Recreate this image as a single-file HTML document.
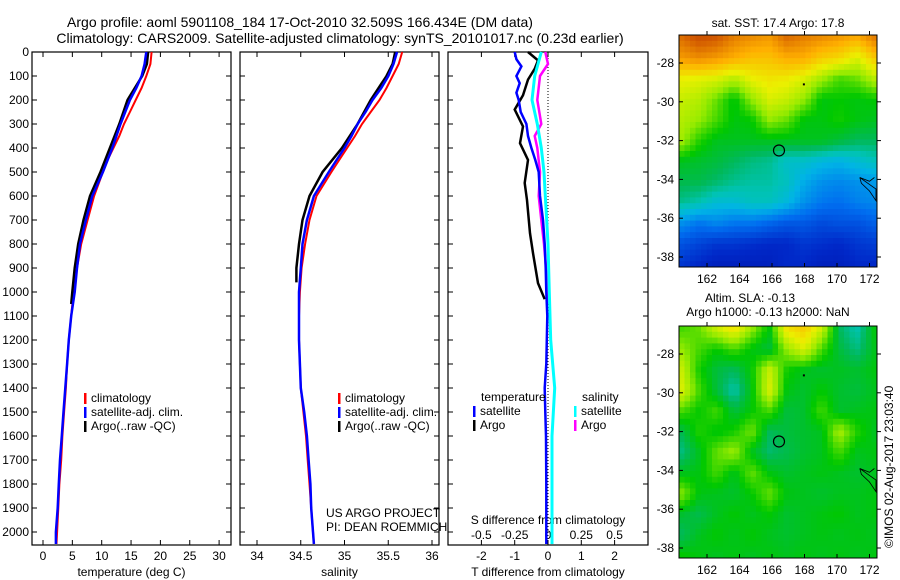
<!DOCTYPE html>
<html><head><meta charset="utf-8"><style>
html,body{margin:0;padding:0;background:#fff;}
svg{display:block;font-family:"Liberation Sans",sans-serif;}
text{fill:#000;}
</style></head><body>
<svg id="fig" width="900" height="580" viewBox="0 0 900 580" xmlns="http://www.w3.org/2000/svg">
<rect width="900" height="580" fill="#fff"/>
<text x="300" y="27" font-size="14" text-anchor="middle">Argo profile: aoml 5901108_184 17-Oct-2010 32.509S 166.434E (DM data)</text>
<text x="340" y="43" font-size="14" text-anchor="middle">Climatology: CARS2009. Satellite-adjusted climatology: synTS_20101017.nc (0.23d earlier)</text>
<g id="p1"></g>
<g id="p2"></g>
<g id="p3"></g>
<g id="m1"></g>
<g id="m2"></g>
<text x="778" y="27" font-size="12" text-anchor="middle">sat. SST: 17.4  Argo: 17.8</text>
<text x="750" y="302" font-size="12" text-anchor="middle">Altim. SLA: -0.13</text>
<text x="768" y="316" font-size="12" text-anchor="middle">Argo h1000: -0.13 h2000: NaN</text>
<text transform="translate(893,548) rotate(-90)" font-size="12">©IMOS 02-Aug-2017 23:03:40</text>
</svg>
<script>
// ---- data ----
const tempDepths = [0,50,100,150,200,250,300,350,400,450,500,600,700,800,900,1000,1100,1200,1300,1400,1500,1600,1700,1800,1900,2000,2050];
const tempClim   = [18.5,18.3,17.6,16.8,15.8,14.8,13.8,13.0,12.0,11.0,10.2,8.7,7.6,6.5,5.8,5.2,4.8,4.4,4.1,3.9,3.6,3.3,3.1,2.8,2.6,2.4,2.3];
const tempSat    = [17.6,17.3,16.8,15.9,14.8,14.0,13.2,12.5,11.8,11.0,10.2,8.4,7.3,6.3,5.8,5.4,4.8,4.4,4.1,3.8,3.5,3.2,2.9,2.7,2.5,2.2,2.2];
const argoTDepths = [0,50,100,200,300,400,500,600,700,800,900,1000,1050];
const argoTemp    = [17.9,17.7,16.9,14.4,13.0,11.4,9.8,8.0,6.9,6.0,5.4,5.0,4.8];
const salClim = [35.66,35.62,35.55,35.48,35.40,35.30,35.20,35.12,35.03,34.94,34.85,34.68,34.60,34.55,34.51,34.49,34.48,34.48,34.49,34.50,34.53,34.56,34.58,34.60,34.62,34.64,34.65];
const salSat  = [35.60,35.56,35.50,35.42,35.32,35.24,35.15,35.08,35.00,34.91,34.82,34.65,34.57,34.52,34.50,34.48,34.48,34.48,34.49,34.50,34.54,34.57,34.59,34.61,34.62,34.64,34.65];
const argoSDepths = [0,50,100,200,300,400,500,600,700,800,900,960];
const argoSal     = [35.58,35.55,35.48,35.30,35.15,34.97,34.75,34.60,34.52,34.48,34.45,34.45];
const dTDepths = [0,30,60,100,130,170,200,250,300,350,400,450,500,600,700,800,900,1000,1100,1300,1400,1500,1600,1800,2050];
const dTSat    = [-1.0,-0.95,-0.8,-0.95,-0.85,-0.95,-0.88,-0.82,-0.65,-0.6,-0.5,-0.38,-0.28,-0.24,-0.15,-0.1,-0.07,-0.05,-0.02,-0.05,-0.1,-0.08,-0.06,-0.05,-0.05];
const dTArgoDepths = [0,35,70,115,180,240,310,380,450,546,617,755,838,963,1030];
const dTArgo       = [-0.6,-0.3,-0.4,-0.6,-0.75,-1.0,-0.75,-0.84,-0.6,-0.7,-0.63,-0.54,-0.45,-0.3,-0.1];
const dSDepths = [0,100,200,300,400,500,600,700,800,1000,1200,1400,1600,1800,2050];
const dSSat    = [-0.05,-0.1,-0.12,-0.08,-0.05,-0.03,-0.02,-0.01,0,0.01,0.02,0.05,0.03,0.03,0.03];
const dSArgoDepths = [0,50,100,200,300,350,400,500,600,700,800,1000,1050];
const dSArgo       = [-0.02,0,-0.06,-0.08,-0.05,-0.1,-0.08,-0.06,-0.07,-0.05,-0.03,0,0];
const depthTicks = [0,100,200,300,400,500,600,700,800,900,1000,1100,1200,1300,1400,1500,1600,1700,1800,1900,2000];
const tempTicks = [0,5,10,15,20,25,30];
const salTicks = [34,34.5,35,35.5,36];
const dTTicks = [-2,-1,0,1,2];
const dSTicks = [-0.5,-0.25,0,0.25,0.5];
const lonTicks = [162,164,166,168,170,172];
const latTicks = [-28,-30,-32,-34,-36,-38];
const sstGrid = [
[0.85,0.9,0.88,0.82,0.8,0.78,0.85,0.82,0.8,0.78,0.75,0.82],
[0.78,0.8,0.78,0.75,0.72,0.72,0.75,0.75,0.7,0.68,0.62,0.7],
[0.64,0.63,0.62,0.58,0.64,0.66,0.65,0.62,0.56,0.5,0.52,0.58],
[0.6,0.58,0.52,0.45,0.55,0.62,0.6,0.55,0.45,0.46,0.45,0.46],
[0.58,0.55,0.5,0.45,0.46,0.55,0.52,0.45,0.45,0.47,0.45,0.44],
[0.56,0.48,0.44,0.44,0.44,0.44,0.44,0.44,0.44,0.42,0.4,0.4],
[0.44,0.43,0.42,0.4,0.38,0.37,0.33,0.33,0.31,0.3,0.32,0.34],
[0.41,0.41,0.39,0.37,0.36,0.36,0.34,0.29,0.26,0.25,0.26,0.27],
[0.37,0.35,0.32,0.32,0.34,0.34,0.31,0.26,0.23,0.22,0.24,0.25],
[0.26,0.23,0.25,0.23,0.23,0.21,0.19,0.19,0.17,0.18,0.18,0.2],
[0.18,0.16,0.14,0.14,0.13,0.12,0.12,0.14,0.13,0.12,0.14,0.15],
[0.14,0.12,0.1,0.1,0.1,0.1,0.12,0.12,0.1,0.1,0.12,0.12]];
const slaGrid = [
[0.5,0.52,0.6,0.66,0.55,0.45,0.66,0.7,0.6,0.4,0.35,0.45],
[0.55,0.5,0.46,0.5,0.45,0.42,0.55,0.62,0.5,0.42,0.38,0.44],
[0.6,0.47,0.42,0.4,0.46,0.6,0.47,0.44,0.43,0.44,0.43,0.45],
[0.62,0.5,0.42,0.35,0.45,0.62,0.45,0.43,0.46,0.43,0.42,0.44],
[0.5,0.46,0.5,0.42,0.46,0.5,0.42,0.43,0.5,0.43,0.44,0.45],
[0.41,0.48,0.45,0.47,0.53,0.4,0.42,0.43,0.44,0.57,0.48,0.44],
[0.38,0.44,0.52,0.56,0.44,0.39,0.41,0.43,0.44,0.5,0.44,0.45],
[0.44,0.45,0.5,0.44,0.52,0.45,0.43,0.44,0.45,0.44,0.43,0.44],
[0.54,0.45,0.44,0.43,0.46,0.52,0.45,0.44,0.43,0.44,0.44,0.45],
[0.43,0.41,0.44,0.46,0.44,0.46,0.43,0.44,0.45,0.46,0.44,0.45],
[0.4,0.44,0.46,0.44,0.46,0.44,0.43,0.44,0.45,0.44,0.45,0.44],
[0.46,0.45,0.44,0.45,0.44,0.45,0.44,0.45,0.44,0.45,0.44,0.45]];

const NS='http://www.w3.org/2000/svg';
function mk(parent,tag,attrs){const e=document.createElementNS(NS,tag);for(const k in attrs)e.setAttribute(k,attrs[k]);parent.appendChild(e);return e;}
const yD = d => 52 + d*0.24;

function panel(g,x0,x1,xf,ticks,fmt,xlabel,showDepth){
  const fr=mk(g,'rect',{x:x0,y:52,width:x1-x0,height:493,fill:'none',stroke:'#000','stroke-width':1.2});
  
  
  ticks.forEach(t=>{const x=xf(t);
    mk(g,'line',{x1:x,y1:545,x2:x,y2:540,stroke:'#000'});
    mk(g,'line',{x1:x,y1:52,x2:x,y2:57,stroke:'#000'});
    const tx=mk(g,'text',{x:x,y:560,'font-size':12,'text-anchor':'middle'});tx.textContent=fmt(t);
    
    
  });
  depthTicks.forEach(d=>{const y=yD(d);
    mk(g,'line',{x1:x0,y1:y,x2:x0+5,y2:y,stroke:'#000'});
    mk(g,'line',{x1:x1,y1:y,x2:x1-5,y2:y,stroke:'#000'});
    if(showDepth){const tx=mk(g,'text',{x:x0-3,y:y+4,'font-size':12,'text-anchor':'end'});tx.textContent=d;
      
      }
  });
  const xl=mk(g,'text',{x:(x0+x1)/2,y:576,'font-size':12,'text-anchor':'middle'});xl.textContent=xlabel;
  
  
}
function line(g,depths,vals,xf,color,w,name){
  const pts=depths.map((d,i)=>xf(vals[i]).toFixed(1)+','+yD(d).toFixed(1)).join(' ');
  const p=mk(g,'polyline',{points:pts,fill:'none',stroke:color,'stroke-width':w});
  
  
}
function legend(g,x,y,items){
  items.forEach((it,i)=>{
    mk(g,'rect',{x:x,y:y+i*14-9,width:2.5,height:11,fill:it[1]});
    const t=mk(g,'text',{x:x+7,y:y+i*14,'font-size':12});t.textContent=it[0];
    
    
  });
}
// panel 1
const p1=document.getElementById('p1'); const xT=t=>43+5.87*t;
panel(p1,32,231,xT,tempTicks,String,'temperature (deg C)',true);
line(p1,tempDepths,tempClim,xT,'#f00',2,'temp-climatology-line');
line(p1,argoTDepths,argoTemp,xT,'#000',2.5,'temp-argo-line');
line(p1,tempDepths,tempSat,xT,'#00f',2.5,'temp-satellite-line');
legend(p1,84,402,[['climatology','#f00'],['satellite-adj. clim.','#00f'],['Argo(..raw -QC)','#000']]);
// panel 2
const p2=document.getElementById('p2'); const xS=s=>257+87.5*(s-34);
panel(p2,240,439,xS,salTicks,String,'salinity',false);
line(p2,tempDepths,salClim,xS,'#f00',2,'sal-climatology-line');
line(p2,argoSDepths,argoSal,xS,'#000',2.5,'sal-argo-line');
line(p2,tempDepths,salSat,xS,'#00f',2.5,'sal-satellite-line');
legend(p2,338,402,[['climatology','#f00'],['satellite-adj. clim.','#00f'],['Argo(..raw -QC)','#000']]);
[['US ARGO PROJECT',517],['PI: DEAN ROEMMICH',531]].forEach(a=>{const t=mk(p2,'text',{x:326,y:a[1],'font-size':12});t.textContent=a[0];
  
  });
// panel 3
const p3=document.getElementById('p3'); const xdT=t=>548+33.3*t; const xdS=s=>548+133.2*s;
panel(p3,448,648,xdT,dTTicks,String,'T difference from climatology',false);
mk(p3,'line',{x1:548,y1:52,x2:548,y2:545,stroke:'#000','stroke-dasharray':'1,2'});
dSTicks.forEach(s=>{const t=mk(p3,'text',{x:xdS(s),y:539,'font-size':12,'text-anchor':'middle'});t.textContent=String(s);
  
  });
{const t=mk(p3,'text',{x:548,y:524,'font-size':12,'text-anchor':'middle'});t.textContent='S difference from climatology';
 
 }
line(p3,dTArgoDepths,dTArgo,xdT,'#000',2.5,'dT-argo-line');
line(p3,dSArgoDepths,dSArgo,xdS,'#f0f',2.5,'dS-argo-line');
line(p3,dSDepths,dSSat,xdS,'#0ff',3,'dS-satellite-line');
line(p3,dTDepths,dTSat,xdT,'#00f',2.5,'dT-satellite-line');
{const t=mk(p3,'text',{x:481,y:401,'font-size':12});t.textContent='temperature';
 
 
 const u=mk(p3,'text',{x:582,y:401,'font-size':12});u.textContent='salinity';
 
 }
legend(p3,473,415,[['satellite','#00f'],['Argo','#000']]);
legend(p3,574,415,[['satellite','#0ff'],['Argo','#f0f']]);

// maps
const stops=[[0,[0,0,140]],[0.12,[0,40,200]],[0.22,[0,110,240]],[0.3,[0,180,230]],[0.35,[0,195,180]],[0.4,[0,185,90]],[0.46,[0,200,0]],[0.55,[150,235,0]],[0.64,[235,240,0]],[0.75,[255,175,0]],[0.88,[210,90,0]],[1,[170,40,0]]];
function cmap(v){for(let i=1;i<stops.length;i++){if(v<=stops[i][0]){const a=stops[i-1],b=stops[i];const f=(v-a[0])/(b[0]-a[0]);return 'rgb('+a[1].map((c,k)=>Math.round(c+(b[1][k]-c)*f)).join(',')+')';}}return 'rgb(170,40,0)';}
function map(g,top,grid){
  const x0=679,x1=877,bot=top+232;
  const xl=lon=>707+16.25*(lon-162); const yl=lat=>top+28+19.4*(-28-lat);
  const N=36,M=40; const cw=(x1-x0)/N, ch=(bot-top)/M;
  for(let j=0;j<M;j++)for(let i=0;i<N;i++){
    const gx=i/(N-1)*11, gy=j/(M-1)*11; const ix=Math.min(10,Math.floor(gx)), iy=Math.min(10,Math.floor(gy));
    const fx=gx-ix, fy=gy-iy;
    const v=grid[iy][ix]*(1-fx)*(1-fy)+grid[iy][ix+1]*fx*(1-fy)+grid[iy+1][ix]*(1-fx)*fy+grid[iy+1][ix+1]*fx*fy;
    mk(g,'rect',{x:(x0+i*cw).toFixed(2),y:(top+j*ch).toFixed(2),width:(cw+0.4).toFixed(2),height:(ch+0.4).toFixed(2),fill:cmap(v)});
  }
  const fr=mk(g,'rect',{x:x0,y:top,width:x1-x0,height:bot-top,fill:'none',stroke:'#000'});
  
  
  lonTicks.forEach(l=>{const x=xl(l);mk(g,'line',{x1:x,y1:top,x2:x,y2:top-4,stroke:'#000'});mk(g,'line',{x1:x,y1:bot,x2:x,y2:bot-4,stroke:'#000'});
    const t=mk(g,'text',{x:x,y:bot+16,'font-size':12,'text-anchor':'middle'});t.textContent=l;
    
    });
  latTicks.forEach(l=>{const y=yl(l);mk(g,'line',{x1:x1,y1:y,x2:x1+4,y2:y,stroke:'#000'});mk(g,'line',{x1:x0,y1:y,x2:x0+4,y2:y,stroke:'#000'});
    const t=mk(g,'text',{x:x0-5,y:y+4,'font-size':12,'text-anchor':'end'});t.textContent=l;
    
    });
  const c=mk(g,'circle',{cx:xl(166.43),cy:yl(-32.51),r:5.5,fill:'none',stroke:'#000','stroke-width':1.2});
  
  
  mk(g,'rect',{x:xl(167.9),y:yl(-29.05),width:2,height:2,fill:'#000'});
  mk(g,'polyline',{points:[[171.4,-33.9],[171.5,-34.2],[172.0,-34.6],[172.4,-35.1],[172.4,-34.5],[171.9,-34.2],[171.4,-33.9],[172.0,-34.1],[172.3,-33.9]].map(p=>xl(p[0]).toFixed(1)+','+yl(p[1]).toFixed(1)).join(' '),fill:'none',stroke:'#000','stroke-width':0.8});
}
map(document.getElementById('m1'),35,sstGrid);
map(document.getElementById('m2'),326,slaGrid);
</script>
</body></html>
